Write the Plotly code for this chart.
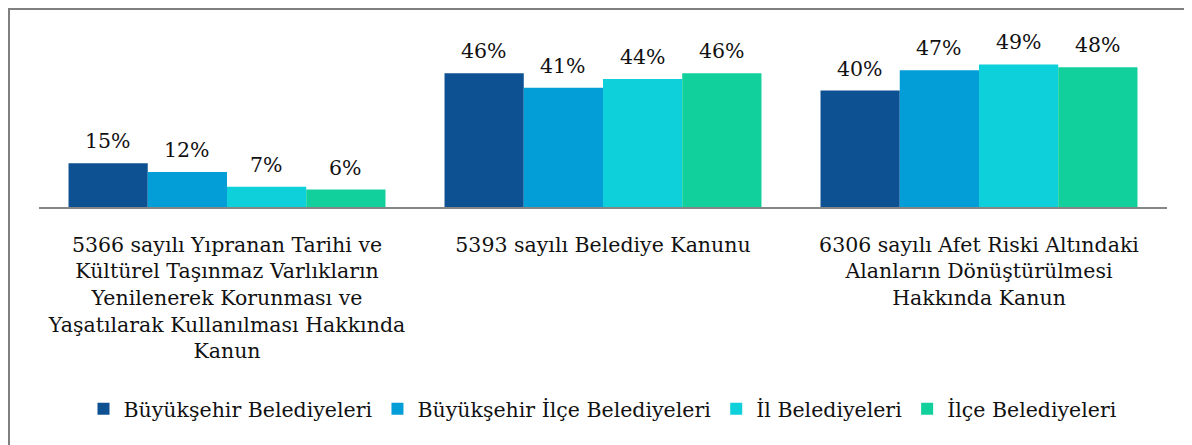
import plotly.graph_objects as go

categories = [
    "5366 sayılı Yıpranan Tarihi ve<br>Kültürel Taşınmaz Varlıkların<br>Yenilenerek Korunması ve<br>Yaşatılarak Kullanılması Hakkında<br>Kanun",
    "5393 sayılı Belediye Kanunu",
    "6306 sayılı Afet Riski Altındaki<br>Alanların Dönüştürülmesi<br>Hakkında Kanun",
]
series_names = ["Büyükşehir Belediyeleri", "Büyükşehir İlçe Belediyeleri", "İl Belediyeleri", "İlçe Belediyeleri"]
buyuksehir = [15, 46, 40]
buyuksehir_ilce = [12, 41, 47]
il = [7, 44, 49]
ilce = [6, 46, 48]
colors = ["#0E5193", "#039DD8", "#0DD0DA", "#12D09C"]

all_values = [buyuksehir, buyuksehir_ilce, il, ilce]

# figure geometry (page has an 8px body margin)
W, H = 1184, 437
L, R, T, B = 31, 25, 12, 238
pw, ph = W - L - R, H - T - B
bargap = 0.157
bar_px = pw / len(categories) * (1 - bargap) / len(series_names)

fig = go.Figure()
for i, (name, vals, col) in enumerate(zip(series_names, all_values, colors)):
    fig.add_trace(go.Bar(
        x=categories, y=vals, name=name,
        marker=dict(color=col, line=dict(width=0)),
    ))
    for c, v in zip(categories, vals):
        fig.add_annotation(
            x=c, y=v, text=f"{v}%", showarrow=False,
            xanchor="center", yanchor="bottom",
            xshift=(i - 1.5) * bar_px, yshift=8,
            font=dict(family="DejaVu Serif", size=20.5, color="#111111"),
        )

fig.update_layout(
    width=W, height=H,
    margin=dict(l=L, r=R, t=T, b=B, autoexpand=False),
    barmode="group", bargap=bargap, bargroupgap=0,
    plot_bgcolor="white", paper_bgcolor="white",
    xaxis=dict(showline=True, linecolor="#868686", linewidth=2, ticks="",
               tickfont=dict(family="DejaVu Serif", size=20.5, color="#111111"),
               ticklabelstandoff=18, automargin=False,
               showgrid=False),
    yaxis=dict(visible=False, range=[0, 64.26], showgrid=False, automargin=False),
    legend=dict(orientation="h", x=0.5, xanchor="center", y=(199 - 401) / ph, yanchor="middle",
                font=dict(family="DejaVu Serif", size=20.5, color="#111111"),
                itemwidth=30, traceorder="normal"),
    showlegend=True,
)
fig.add_shape(type="rect", xref="paper", yref="paper",
              x0=(1 - L) / pw, x1=(1230 - L) / pw,
              y0=(199 - 480) / ph, y1=(199 - 1) / ph,
              line=dict(color="#7F7F7F", width=2), fillcolor="rgba(0,0,0,0)", layer="below")

fig.write_html("out.html")
